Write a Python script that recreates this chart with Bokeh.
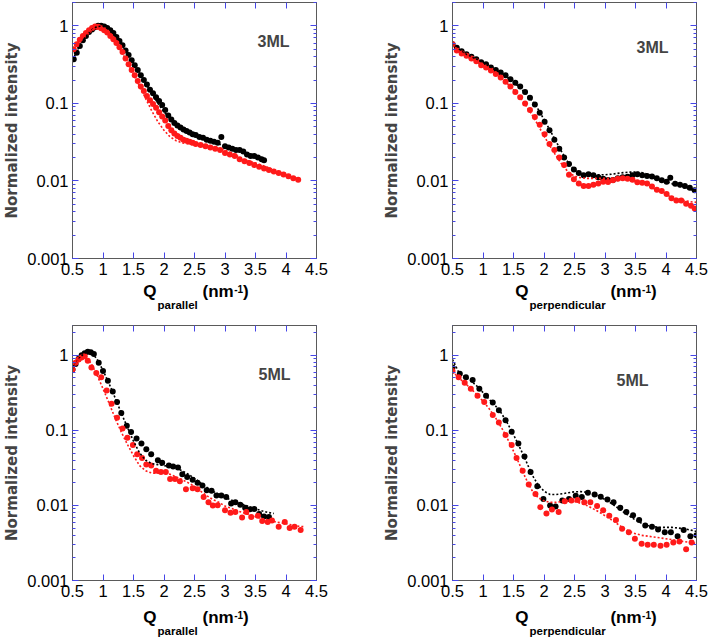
from bokeh.plotting import figure
from bokeh.models import (FixedTicker, CustomJSTickFormatter, LinearAxis, LogAxis,
                          Label, Range1d, LogTicker, Div)
from bokeh.layouts import column, row
from bokeh.embed import file_html
from bokeh.resources import INLINE

# ---------------- data ----------------
x_ticks = [0.5, 1.0, 1.5, 2.0, 2.5, 3.0, 3.5, 4.0, 4.5]

# Panel 1: 3ML, Q parallel
p1_bx = [0.52, 0.57, 0.62, 0.67, 0.72, 0.77, 0.82, 0.87, 0.92, 0.97, 1.02, 1.07, 1.12, 1.17,
         1.22, 1.27, 1.32, 1.37, 1.42, 1.47, 1.52, 1.57, 1.62, 1.67, 1.72, 1.77, 1.82, 1.87,
         1.92, 1.97, 2.02, 2.07, 2.12, 2.17, 2.22, 2.27, 2.32, 2.37, 2.42, 2.47, 2.52, 2.58,
         2.64, 2.70, 2.76, 2.82, 2.88, 2.94, 3.00, 3.06, 3.12, 3.18, 3.24, 3.30, 3.36, 3.42,
         3.48, 3.54, 3.60, 3.64]
p1_by = [0.37, 0.45, 0.55, 0.65, 0.74, 0.83, 0.90, 0.96, 1.0, 1.0, 0.98, 0.94, 0.88, 0.81,
         0.72, 0.64, 0.56, 0.48, 0.42, 0.36, 0.31, 0.27, 0.23, 0.20, 0.175, 0.15, 0.135, 0.12,
         0.107, 0.095, 0.082, 0.070, 0.062, 0.056, 0.052, 0.049, 0.046, 0.044, 0.042, 0.040, 0.039, 0.037,
         0.036, 0.034, 0.033, 0.032, 0.031, 0.037, 0.028, 0.027, 0.026, 0.025, 0.025, 0.024, 0.022, 0.021,
         0.021, 0.020, 0.019, 0.0185]
p1_rx = [0.52, 0.57, 0.62, 0.67, 0.72, 0.77, 0.82, 0.87, 0.92, 0.97, 1.02, 1.07, 1.12, 1.17,
         1.22, 1.27, 1.32, 1.37, 1.42, 1.47, 1.52, 1.57, 1.62, 1.67, 1.72, 1.77, 1.82, 1.87,
         1.92, 1.97, 2.02, 2.07, 2.12, 2.17, 2.22, 2.27, 2.32, 2.37, 2.42, 2.47, 2.52, 2.60,
         2.68, 2.76, 2.84, 2.92, 3.00, 3.08, 3.16, 3.24, 3.32, 3.40, 3.48, 3.56, 3.64, 3.72,
         3.80, 3.88, 3.96, 4.04, 4.12, 4.20]
p1_ry = [0.50, 0.58, 0.66, 0.74, 0.81, 0.88, 0.94, 0.98, 0.97, 0.93, 0.88, 0.82, 0.74, 0.67,
         0.60, 0.53, 0.46, 0.38, 0.32, 0.27, 0.23, 0.195, 0.165, 0.145, 0.125, 0.11, 0.098, 0.088,
         0.077, 0.068, 0.060, 0.051, 0.045, 0.041, 0.038, 0.036, 0.034, 0.033, 0.032, 0.031, 0.030, 0.029,
         0.028, 0.027, 0.026, 0.025, 0.023, 0.022, 0.021, 0.019, 0.018, 0.017, 0.016, 0.0152, 0.0145, 0.0138,
         0.0132, 0.0127, 0.0121, 0.0115, 0.0108, 0.0104]
p1_fbx = [0.5, 0.6, 0.7, 0.8, 0.9, 1.0, 1.1, 1.2, 1.3, 1.4, 1.5, 1.6, 1.7, 1.8, 1.9, 2.0, 2.1,
          2.2, 2.3, 2.4, 2.5, 2.6, 2.7, 2.8, 2.9, 3.0, 3.1, 3.2, 3.3, 3.4, 3.5, 3.6]
p1_fby = [0.36, 0.52, 0.70, 0.87, 0.98, 0.99, 0.90, 0.76, 0.60, 0.45, 0.33, 0.245, 0.18, 0.135,
          0.10, 0.078, 0.062, 0.052, 0.045, 0.041, 0.038, 0.036, 0.034, 0.032, 0.030, 0.028,
          0.027, 0.025, 0.024, 0.022, 0.021, 0.020]
p1_frx = [0.5, 0.6, 0.7, 0.8, 0.9, 1.0, 1.1, 1.2, 1.3, 1.4, 1.5, 1.6, 1.7, 1.8, 1.9, 2.0, 2.1,
          2.2, 2.3, 2.4, 2.5, 2.6, 2.7, 2.8, 2.9, 3.0, 3.1, 3.2, 3.3, 3.4, 3.5, 3.6, 3.7, 3.8,
          3.9, 4.0, 4.1, 4.2]
p1_fry = [0.50, 0.63, 0.78, 0.88, 0.92, 0.88, 0.76, 0.62, 0.47, 0.34, 0.24, 0.165, 0.115, 0.08,
          0.058, 0.045, 0.037, 0.033, 0.031, 0.030, 0.029, 0.029, 0.028, 0.027, 0.026, 0.025,
          0.023, 0.021, 0.019, 0.018, 0.017, 0.016, 0.015, 0.014, 0.013, 0.012, 0.0113, 0.0107]

# Panel 2: 3ML, Q perpendicular
p2_bx = [0.50, 0.57, 0.65, 0.73, 0.81, 0.89, 0.97, 1.05, 1.13, 1.21, 1.29, 1.37, 1.45, 1.53,
         1.61, 1.69, 1.77, 1.85, 1.93, 2.01, 2.09, 2.17, 2.25, 2.33, 2.41, 2.49, 2.57, 2.65,
         2.73, 2.81, 2.89, 2.97, 3.05, 3.13, 3.21, 3.29, 3.37, 3.45, 3.53, 3.61, 3.69, 3.77,
         3.85, 3.93, 4.01, 4.07, 4.15, 4.23, 4.31, 4.39, 4.47]
p2_by = [0.58, 0.52, 0.47, 0.43, 0.40, 0.37, 0.34, 0.32, 0.29, 0.27, 0.25, 0.23, 0.205, 0.185,
         0.165, 0.14, 0.118, 0.097, 0.076, 0.058, 0.045, 0.034, 0.026, 0.020, 0.0165, 0.014, 0.0127, 0.0118,
         0.0122, 0.0118, 0.0112, 0.0107, 0.0103, 0.0103, 0.0108, 0.0112, 0.0113, 0.0118, 0.0122, 0.0118, 0.0116, 0.0114,
         0.0108, 0.0102, 0.0098, 0.0110, 0.0092, 0.0089, 0.0086, 0.0082, 0.0076]
p2_rx = [0.50, 0.57, 0.65, 0.73, 0.81, 0.89, 0.97, 1.05, 1.13, 1.21, 1.29, 1.37, 1.45, 1.53,
         1.61, 1.69, 1.77, 1.85, 1.93, 2.01, 2.09, 2.17, 2.25, 2.33, 2.41, 2.49, 2.57, 2.65,
         2.73, 2.81, 2.89, 2.97, 3.05, 3.13, 3.21, 3.29, 3.37, 3.45, 3.53, 3.61, 3.69, 3.77,
         3.85, 3.93, 4.01, 4.09, 4.17, 4.25, 4.33, 4.41, 4.47]
p2_ry = [0.58, 0.48, 0.44, 0.41, 0.38, 0.35, 0.31, 0.29, 0.265, 0.24, 0.215, 0.19, 0.165, 0.14,
         0.12, 0.10, 0.082, 0.067, 0.053, 0.040, 0.030, 0.025, 0.020, 0.016, 0.012, 0.0105, 0.0093, 0.0086,
         0.0086, 0.0089, 0.0093, 0.0098, 0.0097, 0.0102, 0.0107, 0.0108, 0.0107, 0.0104, 0.0096, 0.0095, 0.0093, 0.0085,
         0.0077, 0.0074, 0.0068, 0.0060, 0.0056, 0.0056, 0.0051, 0.0048, 0.0044]
p2_fx = [0.5, 0.6, 0.7, 0.8, 0.9, 1.0, 1.1, 1.2, 1.3, 1.4, 1.5, 1.6, 1.7, 1.8, 1.9, 2.0, 2.1,
         2.2, 2.3, 2.4, 2.5, 2.6, 2.7, 2.8, 2.9, 3.0, 3.1, 3.2, 3.3, 3.4, 3.5, 3.6, 3.7, 3.8,
         3.9, 4.0, 4.1, 4.2, 4.3, 4.4, 4.5]
p2_fby = [0.58, 0.50, 0.44, 0.40, 0.37, 0.34, 0.30, 0.27, 0.245, 0.215, 0.19, 0.16, 0.135, 0.11,
          0.085, 0.062, 0.045, 0.032, 0.023, 0.017, 0.0138, 0.0126, 0.0121, 0.012, 0.012, 0.012,
          0.0122, 0.0125, 0.0128, 0.013, 0.013, 0.0128, 0.0122, 0.0115, 0.0107, 0.0099, 0.0092,
          0.0086, 0.0082, 0.0078, 0.0074]
p2_fry = [0.58, 0.48, 0.42, 0.38, 0.35, 0.31, 0.28, 0.245, 0.215, 0.18, 0.15, 0.12, 0.095, 0.072,
          0.053, 0.038, 0.028, 0.021, 0.016, 0.013, 0.0115, 0.011, 0.0108, 0.0108, 0.0108, 0.0108,
          0.0108, 0.0108, 0.0107, 0.0105, 0.010, 0.0095, 0.0088, 0.0080, 0.0073, 0.0067, 0.0062,
          0.0058, 0.0056, 0.0054, 0.0053]

# Panel 3: 5ML, Q parallel
p3_bx = [0.50, 0.55, 0.60, 0.65, 0.70, 0.75, 0.80, 0.85, 0.93, 1.00, 1.08, 1.16, 1.23, 1.30,
         1.39, 1.46, 1.55, 1.63, 1.71, 1.79, 1.90, 1.97, 2.08, 2.15, 2.23, 2.30, 2.38, 2.47,
         2.55, 2.63, 2.70, 2.78, 2.86, 2.94, 3.02, 3.10, 3.17, 3.25, 3.33, 3.41, 3.48, 3.56,
         3.64, 3.72]
p3_by = [0.65, 0.77, 0.90, 1.0, 1.07, 1.12, 1.10, 1.04, 0.80, 0.62, 0.46, 0.33, 0.24, 0.17,
         0.115, 0.095, 0.078, 0.067, 0.056, 0.048, 0.040, 0.037, 0.034, 0.033, 0.032, 0.026, 0.024, 0.022,
         0.020, 0.0185, 0.016, 0.0157, 0.0136, 0.0136, 0.013, 0.0106, 0.011, 0.0102, 0.0093, 0.0089, 0.009, 0.0077,
         0.0071, 0.0070]
p3_rx = [0.50, 0.55, 0.60, 0.65, 0.70, 0.75, 0.81, 0.89, 0.97, 1.06, 1.14, 1.23, 1.32, 1.40,
         1.49, 1.56, 1.64, 1.71, 1.79, 1.87, 1.95, 2.03, 2.10, 2.18, 2.26, 2.36, 2.47, 2.55,
         2.65, 2.73, 2.80, 2.88, 3.00, 3.09, 3.17, 3.28, 3.35, 3.43, 3.54, 3.61, 3.70, 3.77,
         3.88, 3.98, 4.06, 4.14, 4.24]
p3_ry = [0.65, 0.80, 0.88, 0.94, 0.97, 0.85, 0.69, 0.58, 0.51, 0.34, 0.227, 0.148, 0.106, 0.080,
         0.064, 0.048, 0.043, 0.035, 0.034, 0.029, 0.028, 0.028, 0.0225, 0.0225, 0.021, 0.0165, 0.017, 0.0165,
         0.013, 0.011, 0.010, 0.0101, 0.0086, 0.0080, 0.0082, 0.0069, 0.0082, 0.0070, 0.0073, 0.0062, 0.0060, 0.0063,
         0.0052, 0.0060, 0.0050, 0.0052, 0.0047]
p3_fbx = [0.5, 0.6, 0.7, 0.8, 0.9, 1.0, 1.1, 1.2, 1.3, 1.4, 1.5, 1.6, 1.7, 1.8, 1.9, 2.0, 2.1,
          2.2, 2.3, 2.4, 2.5, 2.6, 2.7, 2.8, 2.9, 3.0, 3.1, 3.2, 3.3, 3.4, 3.5, 3.6, 3.7, 3.8]
p3_fby = [0.66, 0.90, 1.08, 1.10, 0.90, 0.63, 0.42, 0.27, 0.17, 0.11, 0.072, 0.050, 0.040, 0.036,
          0.035, 0.034, 0.033, 0.031, 0.029, 0.026, 0.023, 0.020, 0.0175, 0.0155, 0.014, 0.0128,
          0.0118, 0.011, 0.0103, 0.0096, 0.009, 0.0085, 0.0081, 0.0078]
p3_frx = [0.5, 0.6, 0.7, 0.8, 0.9, 1.0, 1.1, 1.2, 1.3, 1.4, 1.5, 1.6, 1.7, 1.8, 1.9, 2.0, 2.1,
          2.2, 2.3, 2.4, 2.5, 2.6, 2.7, 2.8, 2.9, 3.0, 3.1, 3.2, 3.3, 3.4, 3.5, 3.6, 3.7, 3.8,
          3.9, 4.0, 4.1, 4.2, 4.3]
p3_fry = [0.66, 0.88, 0.95, 0.80, 0.55, 0.36, 0.23, 0.145, 0.095, 0.065, 0.046, 0.034, 0.029, 0.027,
          0.027, 0.027, 0.026, 0.024, 0.022, 0.020, 0.018, 0.0155, 0.0135, 0.012, 0.011, 0.0098,
          0.0092, 0.0085, 0.0080, 0.0075, 0.0071, 0.0067, 0.0064, 0.0061, 0.0059, 0.0057, 0.0055,
          0.0053, 0.0052]

# Panel 4: 5ML, Q perpendicular
p4_bx = [0.50, 0.62, 0.72, 0.83, 0.94, 1.05, 1.16, 1.26, 1.37, 1.47, 1.58, 1.68, 1.78, 1.89,
         1.99, 2.10, 2.19, 2.30, 2.41, 2.52, 2.62, 2.72, 2.83, 2.93, 3.04, 3.14, 3.25, 3.35,
         3.46, 3.56, 3.66, 3.77, 3.87, 3.98, 4.08, 4.19, 4.29, 4.40, 4.50]
p4_by = [0.69, 0.57, 0.51, 0.47, 0.36, 0.29, 0.235, 0.185, 0.137, 0.096, 0.067, 0.045, 0.028, 0.018,
         0.0122, 0.010, 0.0097, 0.0116, 0.0122, 0.0135, 0.013, 0.0148, 0.014, 0.0131, 0.012, 0.011, 0.0093, 0.0082,
         0.0074, 0.0064, 0.0054, 0.0052, 0.0048, 0.0044, 0.0044, 0.0039, 0.0047, 0.0039, 0.0040]
p4_rx = [0.50, 0.60, 0.70, 0.80, 0.91, 1.02, 1.16, 1.26, 1.37, 1.47, 1.55, 1.65, 1.75, 1.86,
         1.94, 2.04, 2.13, 2.24, 2.34, 2.45, 2.55, 2.66, 2.76, 2.87, 2.97, 3.07, 3.18, 3.28,
         3.39, 3.49, 3.60, 3.70, 3.80, 3.91, 4.01, 4.12, 4.22, 4.33, 4.42]
p4_ry = [0.62, 0.51, 0.43, 0.36, 0.29, 0.24, 0.16, 0.127, 0.087, 0.064, 0.043, 0.029, 0.019, 0.0142,
         0.0095, 0.0078, 0.0088, 0.0082, 0.0114, 0.0116, 0.0118, 0.011, 0.011, 0.0098, 0.0086, 0.0073, 0.0064, 0.0049,
         0.0044, 0.0036, 0.0031, 0.0030, 0.0030, 0.0029, 0.0030, 0.0032, 0.0033, 0.0026, 0.0032]
p4_fx = [0.5, 0.6, 0.7, 0.8, 0.9, 1.0, 1.1, 1.2, 1.3, 1.4, 1.5, 1.6, 1.7, 1.8, 1.9, 2.0, 2.1,
         2.2, 2.3, 2.4, 2.5, 2.6, 2.7, 2.8, 2.9, 3.0, 3.1, 3.2, 3.3, 3.4, 3.5, 3.6, 3.7, 3.8,
         3.9, 4.0, 4.1, 4.2, 4.3, 4.4, 4.5]
p4_fby = [0.88, 0.60, 0.52, 0.46, 0.39, 0.32, 0.26, 0.215, 0.17, 0.125, 0.088, 0.060, 0.040, 0.026,
          0.019, 0.0155, 0.014, 0.014, 0.0143, 0.0148, 0.0152, 0.0153, 0.015, 0.0143, 0.0132, 0.012,
          0.0107, 0.0094, 0.0082, 0.0072, 0.0064, 0.0058, 0.0054, 0.0052, 0.0051, 0.0051, 0.0051,
          0.0050, 0.0049, 0.0047, 0.0045]
p4_fry = [0.62, 0.50, 0.43, 0.36, 0.30, 0.245, 0.195, 0.15, 0.11, 0.078, 0.053, 0.035, 0.023, 0.016,
          0.0128, 0.0115, 0.011, 0.011, 0.0113, 0.0115, 0.0113, 0.0107, 0.010, 0.0091, 0.0082, 0.0073,
          0.0065, 0.0057, 0.0050, 0.0045, 0.0042, 0.0040, 0.0039, 0.0038, 0.0037, 0.0036, 0.0035,
          0.0034, 0.0033, 0.0032, 0.0031]

y_title = "Normalized intensity"

# ---------------- styling ----------------
BLUE = "#4646e8"
FRAME = "#5a5a5a"
RED = "#ff1a1a"
FONT = "Liberation Sans"
FW = 250


def make_panel(bx, by, rx, ry, fbx, fby, frx, fry, tag, ymax, fh,
               bl, br, bt, bb, tag_dx, tag_dy):
    p = figure(width=bl + FW + br, height=bt + fh + bb, y_axis_type="log",
               x_range=Range1d(0.5, 4.5), y_range=Range1d(0.001, ymax),
               output_backend="svg", toolbar_location=None,
               min_border_left=bl, min_border_right=br, min_border_top=bt, min_border_bottom=bb)
    p.grid.visible = False
    p.outline_line_color = FRAME
    p.outline_line_width = 1
    p.background_fill_color = "white"
    p.border_fill_color = "white"

    fmt = CustomJSTickFormatter(code="return Number(tick.toPrecision(6)).toString();")
    blank = CustomJSTickFormatter(code="return '';")

    xa = p.xaxis[0]
    xa.ticker = FixedTicker(ticks=x_ticks)
    xa.formatter = fmt
    ya = p.yaxis[0]
    ya.ticker = LogTicker(num_minor_ticks=10)
    ya.formatter = fmt
    ya.axis_label = y_title
    ya.axis_label_text_font = "DejaVu Sans"
    ya.axis_label_text_font_style = "bold"
    ya.axis_label_text_font_size = "15px"
    ya.axis_label_standoff = 3

    top = LinearAxis(ticker=FixedTicker(ticks=x_ticks), formatter=blank)
    right = LogAxis(ticker=LogTicker(num_minor_ticks=10), formatter=blank)
    p.add_layout(top, "above")
    p.add_layout(right, "right")

    for ax in (xa, ya, top, right):
        ax.axis_line_color = FRAME
        ax.major_tick_in = 6
        ax.major_tick_out = 0
        ax.minor_tick_in = 3
        ax.minor_tick_out = 0
        ax.major_tick_line_color = BLUE
        ax.minor_tick_line_color = BLUE
        ax.major_label_text_font = FONT
        ax.major_label_text_font_size = "16.5px"
        ax.major_label_text_color = "black"
        ax.major_label_standoff = 4
    for ax in (top, right):
        ax.major_label_text_font_size = "1px"
        ax.major_label_standoff = 0
    xa.minor_tick_line_color = None
    top.minor_tick_line_color = None

    p.scatter(bx, by, size=6, fill_color="black", line_color=None)
    p.scatter(rx, ry, size=6, fill_color=RED, line_color=None)
    p.line(fbx, fby, line_color="black", line_width=1.6, line_dash="2 2")
    p.line(frx, fry, line_color=RED, line_width=1.6, line_dash="2 2")

    p.add_layout(Label(x=FW - tag_dx, y=fh - tag_dy, x_units="screen", y_units="screen",
                       text=tag, text_font=FONT, text_font_style="bold",
                       text_font_size="16px", text_align="right", text_baseline="alphabetic"))
    return p


def x_title(sub, bl, br, h, shift):
    html = (
        f'<div style="position:relative;top:{shift}px;margin-left:{bl}px;width:{FW}px;text-align:center;'
        f"font-family:'Liberation Sans',Arial,sans-serif;font-weight:bold;font-size:17px;"
        f'line-height:17px;white-space:nowrap;color:black;">'
        f'Q<span style="font-size:11.5px;position:relative;top:12px;margin-left:1px;">{sub}</span>'
        f' (nm<span style="font-size:10px;position:relative;top:-4px;margin-left:0.5px;">-1</span>)</div>'
    )
    return Div(text=html, width=bl + FW + br, height=h)


p1 = make_panel(p1_bx, p1_by, p1_rx, p1_ry, p1_fbx, p1_fby, p1_frx, p1_fry, "3ML",
                2.0, 256, 66, 64, 2, 26, 33, 39)
p2 = make_panel(p2_bx, p2_by, p2_rx, p2_ry, p2_fx, p2_fby, p2_fx, p2_fry, "3ML",
                2.0, 256, 66, 12, 2, 26, 34, 45)
p3 = make_panel(p3_bx, p3_by, p3_rx, p3_ry, p3_fbx, p3_fby, p3_frx, p3_fry, "5ML",
                2.5, 255, 66, 64, 5, 24, 32, 49)
p4 = make_panel(p4_bx, p4_by, p4_rx, p4_ry, p4_fx, p4_fby, p4_fx, p4_fry, "5ML",
                2.5, 255, 66, 12, 5, 24, 54, 55)

d1 = x_title("parallel", 66, 64, 26, -6)
d2 = x_title("perpendicular", 66, 12, 26, -6)
d3 = x_title("parallel", 66, 64, 30, 0)
d4 = x_title("perpendicular", 66, 12, 30, 0)

layout = column(row(p1, p2), row(d1, d2), row(p3, p4), row(d3, d4))
open("out.html", "w").write(file_html(layout, INLINE))
